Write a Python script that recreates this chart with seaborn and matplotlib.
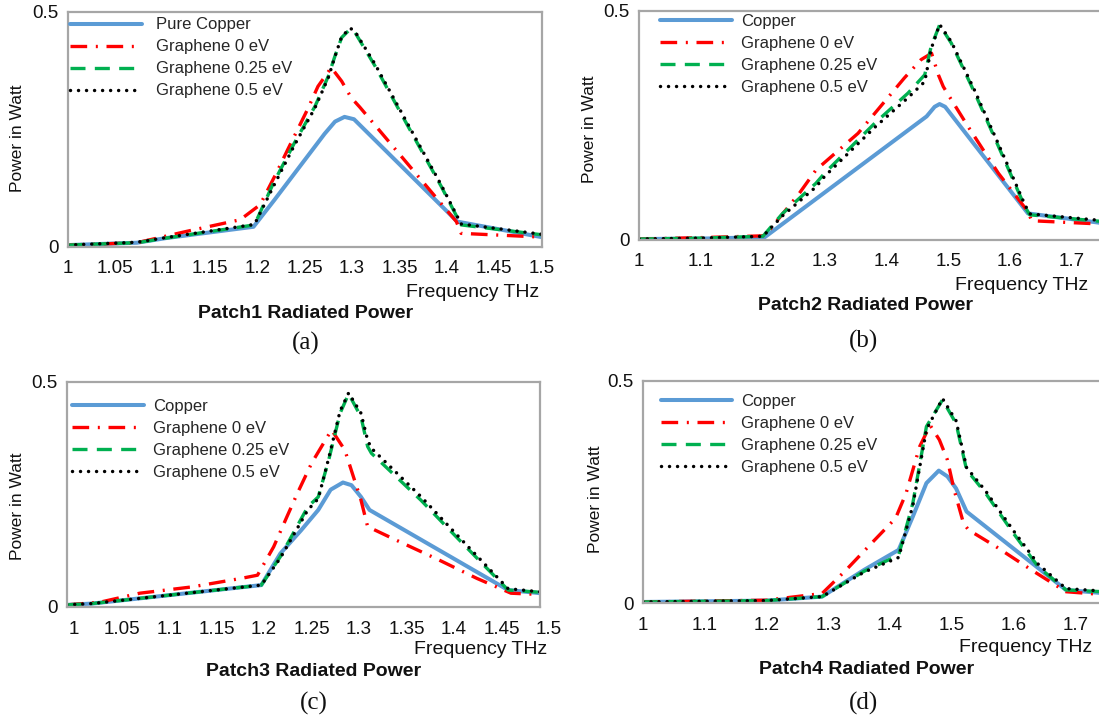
import numpy as np
import pandas as pd
import matplotlib
matplotlib.use("Agg")
import matplotlib.pyplot as plt
import seaborn as sns

# ---------------- data ----------------
series_names = ["Copper", "Graphene 0 eV", "Graphene 0.25 eV", "Graphene 0.5 eV"]

# Patch 1
a_cu_f = [1.0, 1.073, 1.104, 1.196, 1.218, 1.271, 1.282, 1.292, 1.302, 1.411, 1.5]
a_cu_p = [0.003, 0.008, 0.018, 0.042, 0.099, 0.240, 0.266, 0.276, 0.271, 0.053, 0.020]
a_g0_f = [1.0, 1.073, 1.125, 1.182, 1.203, 1.22, 1.232, 1.253, 1.264, 1.278, 1.289, 1.299, 1.308, 1.41, 1.415, 1.5]
a_g0_p = [0.003, 0.008, 0.032, 0.057, 0.089, 0.156, 0.206, 0.292, 0.341, 0.381, 0.352, 0.317, 0.297, 0.053, 0.028, 0.020]
a_g25_f = [1.0, 1.073, 1.104, 1.197, 1.217, 1.239, 1.261, 1.275, 1.282, 1.289, 1.298, 1.303, 1.324, 1.359, 1.394, 1.415, 1.5]
a_g25_p = [0.003, 0.008, 0.018, 0.046, 0.135, 0.220, 0.299, 0.363, 0.406, 0.445, 0.463, 0.456, 0.385, 0.256, 0.128, 0.046, 0.025]
a_g5_f = [1.0, 1.073, 1.104, 1.197, 1.217, 1.239, 1.261, 1.275, 1.282, 1.289, 1.298, 1.303, 1.324, 1.359, 1.394, 1.415, 1.5]
a_g5_p = [0.003, 0.009, 0.019, 0.047, 0.128, 0.215, 0.296, 0.360, 0.405, 0.447, 0.465, 0.458, 0.389, 0.260, 0.131, 0.048, 0.026]

# Patch 2
b_cu_f = [1.0, 1.1, 1.203, 1.465, 1.478, 1.486, 1.495, 1.629, 1.76]
b_cu_p = [0.001, 0.002, 0.005, 0.269, 0.290, 0.296, 0.290, 0.057, 0.034]
b_g0_f = [1.0, 1.097, 1.2, 1.211, 1.259, 1.286, 1.354, 1.429, 1.456, 1.473, 1.484, 1.492, 1.502, 1.532, 1.581, 1.629, 1.635, 1.76]
b_g0_p = [0.001, 0.004, 0.008, 0.021, 0.101, 0.152, 0.232, 0.353, 0.393, 0.407, 0.360, 0.334, 0.312, 0.247, 0.145, 0.061, 0.041, 0.033]
b_g25_f = [1.0, 1.1, 1.2, 1.232, 1.286, 1.3, 1.381, 1.435, 1.462, 1.472, 1.486, 1.505, 1.543, 1.586, 1.624, 1.632, 1.76]
b_g25_p = [0.001, 0.003, 0.007, 0.057, 0.123, 0.145, 0.254, 0.320, 0.360, 0.420, 0.469, 0.429, 0.320, 0.189, 0.072, 0.054, 0.038]
b_g5_f = [1.0, 1.1, 1.2, 1.232, 1.286, 1.3, 1.381, 1.435, 1.462, 1.472, 1.486, 1.505, 1.543, 1.586, 1.624, 1.632, 1.76]
b_g5_p = [0.001, 0.003, 0.007, 0.052, 0.115, 0.138, 0.245, 0.310, 0.345, 0.415, 0.470, 0.432, 0.325, 0.194, 0.076, 0.056, 0.040]

# Patch 3
c_cu_f = [0.992, 1.019, 1.197, 1.217, 1.239, 1.257, 1.270, 1.283, 1.292, 1.302, 1.311, 1.457, 1.491]
c_cu_p = [0.004, 0.007, 0.048, 0.118, 0.170, 0.215, 0.260, 0.276, 0.270, 0.244, 0.215, 0.037, 0.030]
c_g0_f = [0.992, 1.027, 1.069, 1.124, 1.176, 1.193, 1.210, 1.224, 1.235, 1.250, 1.271, 1.285, 1.294, 1.302, 1.309, 1.339, 1.384, 1.424, 1.460, 1.491]
c_g0_p = [0.004, 0.010, 0.030, 0.044, 0.063, 0.070, 0.133, 0.200, 0.252, 0.319, 0.393, 0.348, 0.289, 0.237, 0.178, 0.148, 0.104, 0.063, 0.030, 0.027]
c_g25_f = [0.992, 1.019, 1.197, 1.217, 1.246, 1.257, 1.268, 1.280, 1.289, 1.302, 1.309, 1.313, 1.365, 1.402, 1.457, 1.491]
c_g25_p = [0.004, 0.007, 0.048, 0.111, 0.222, 0.244, 0.326, 0.430, 0.473, 0.422, 0.356, 0.341, 0.237, 0.156, 0.037, 0.032]
c_g5_f = [0.992, 1.019, 1.197, 1.217, 1.246, 1.257, 1.268, 1.280, 1.289, 1.302, 1.309, 1.313, 1.365, 1.402, 1.457, 1.491]
c_g5_p = [0.004, 0.007, 0.048, 0.108, 0.215, 0.240, 0.330, 0.435, 0.475, 0.430, 0.370, 0.352, 0.245, 0.162, 0.040, 0.033]

# Patch 4
d_cu_f = [1.0, 1.2, 1.29, 1.358, 1.414, 1.437, 1.459, 1.479, 1.493, 1.507, 1.524, 1.685, 1.76]
d_cu_p = [0.003, 0.006, 0.015, 0.075, 0.120, 0.195, 0.270, 0.298, 0.285, 0.258, 0.206, 0.030, 0.021]
d_g0_f = [1.0, 1.2, 1.29, 1.329, 1.375, 1.409, 1.426, 1.448, 1.465, 1.48, 1.493, 1.504, 1.519, 1.527, 1.572, 1.629, 1.685, 1.76]
d_g0_p = [0.003, 0.007, 0.022, 0.075, 0.142, 0.191, 0.247, 0.352, 0.400, 0.367, 0.322, 0.254, 0.180, 0.165, 0.127, 0.075, 0.026, 0.018]
d_g25_f = [1.0, 1.2, 1.29, 1.358, 1.414, 1.437, 1.459, 1.485, 1.507, 1.524, 1.555, 1.600, 1.640, 1.685, 1.76]
d_g25_p = [0.003, 0.006, 0.015, 0.072, 0.108, 0.225, 0.397, 0.457, 0.404, 0.300, 0.247, 0.157, 0.082, 0.030, 0.025]
d_g5_f = [1.0, 1.2, 1.29, 1.358, 1.414, 1.437, 1.459, 1.485, 1.507, 1.524, 1.555, 1.600, 1.640, 1.685, 1.76]
d_g5_p = [0.003, 0.006, 0.015, 0.070, 0.103, 0.220, 0.390, 0.460, 0.410, 0.305, 0.252, 0.163, 0.088, 0.033, 0.026]

# tick labels
a_ticks = [1, 1.05, 1.1, 1.15, 1.2, 1.25, 1.3, 1.35, 1.4, 1.45, 1.5]
a_ticklabels = ["1", "1.05", "1.1", "1.15", "1.2", "1.25", "1.3", "1.35", "1.4", "1.45", "1.5"]
b_ticks = [1, 1.1, 1.2, 1.3, 1.4, 1.5, 1.6, 1.7]
b_ticklabels = ["1", "1.1", "1.2", "1.3", "1.4", "1.5", "1.6", "1.7"]
y_ticks = [0, 0.5]
y_ticklabels = ["0", "0.5"]

panel_titles = ["Patch1 Radiated Power", "Patch2 Radiated Power",
                "Patch3 Radiated Power", "Patch4 Radiated Power"]
panel_tags = ["(a)", "(b)", "(c)", "(d)"]
a_labels = ["Pure Copper", "Graphene 0 eV", "Graphene 0.25 eV", "Graphene 0.5 eV"]

# ---------------- styling ----------------
sns.set_theme(style="white")
plt.rcParams['font.family'] = ['Liberation Sans', 'DejaVu Sans']

W, H = 1099, 721
fig = plt.figure(figsize=(W / 100, H / 100), dpi=100)


def fx(x):
    return x / W


def fy(y):
    return 1 - y / H


def add_axes_px(left, right, top, bottom):
    return fig.add_axes([left / W, 1 - bottom / H, (right - left) / W, (bottom - top) / H])


styles = [
    dict(color="#5B9BD5", linewidth=2.9, linestyle="-"),
    dict(color="#FF0000", linewidth=2.4, linestyle=(0, (5, 2.6, 0.6, 2.6))),
    dict(color="#00B050", linewidth=2.4, linestyle=(0, (4.5, 2.8))),
    dict(color="#000000", linewidth=2.5, linestyle=(0, (0.01, 2.3)), dash_capstyle="round"),
]

panels = [
    dict(box=(67.7, 541.7, 11.7, 246.5), xlim=(1.0, 1.5), ticks=a_ticks, tl=a_ticklabels,
         data=[(a_cu_f, a_cu_p), (a_g0_f, a_g0_p), (a_g25_f, a_g25_p), (a_g5_f, a_g5_p)],
         labels=a_labels, leg=(2.3, 23.3, 0.85),
         ylab=(18, 138), freq=(539, 292), title=(306, 313), tag=(306, 343)),
    dict(box=(639.3, 1133.6, 10.7, 239.5), xlim=(1.0, 1.8), ticks=b_ticks, tl=b_ticklabels,
         data=[(b_cu_f, b_cu_p), (b_g0_f, b_g0_p), (b_g25_f, b_g25_p), (b_g5_f, b_g5_p)],
         labels=series_names, leg=(20.7, 20.7, 0.55),
         ylab=(589.3, 129), freq=(1088.5, 285), title=(866, 305), tag=(864, 341)),
    dict(box=(66.7, 540.4, 381.7, 606.7), xlim=(0.992, 1.491), ticks=a_ticks, tl=a_ticklabels,
         data=[(c_cu_f, c_cu_p), (c_g0_f, c_g0_p), (c_g25_f, c_g25_p), (c_g5_f, c_g5_p)],
         labels=series_names, leg=(5.3, 35.0, 0.55),
         ylab=(17.5, 506), freq=(547, 650), title=(314, 671.7), tag=(314, 703)),
    dict(box=(643, 1137, 380.7, 603.3), xlim=(1.0, 1.8), ticks=b_ticks, tl=b_ticklabels,
         data=[(d_cu_f, d_cu_p), (d_g0_f, d_g0_p), (d_g25_f, d_g25_p), (d_g5_f, d_g5_p)],
         labels=series_names, leg=(17.5, 31.0, 0.55),
         ylab=(595.6, 499), freq=(1092, 647), title=(867, 670), tag=(864, 703)),
]

for i, pn in enumerate(panels):
    left, right, top, bottom = pn["box"]
    ax = add_axes_px(left, right, top, bottom)
    for (f, p), lab, st in zip(pn["data"], pn["labels"], styles):
        df = pd.DataFrame({"Frequency": f, "Power": p})
        sns.lineplot(data=df, x="Frequency", y="Power", ax=ax, label=lab,
                     estimator=None, sort=False, **st)
    ax.set_xlim(*pn["xlim"])
    ax.set_ylim(0, 0.5)
    ticks_in = [t for t in pn["ticks"] if t <= pn["xlim"][1] + 1e-9]
    labels_in = [l for t, l in zip(pn["ticks"], pn["tl"]) if t <= pn["xlim"][1] + 1e-9]
    ax.set_xticks(ticks_in)
    ax.set_xticklabels(labels_in)
    # tick labels that fall just outside the plotting box
    for t, l in zip(pn["ticks"], pn["tl"]):
        if t > pn["xlim"][1] + 1e-9 and t < pn["xlim"][1] + 0.02:
            ax.annotate(l, xy=(t, 0), xycoords=("data", "axes fraction"),
                        xytext=(0, -10), textcoords="offset points",
                        ha="center", va="top", fontsize=13.5, color="#111111",
                        annotation_clip=False)
    ax.set_yticks(y_ticks)
    ax.set_yticklabels(y_ticklabels)
    ax.tick_params(axis="x", length=0, pad=10, labelsize=13.5, colors="#111111")
    ax.tick_params(axis="y", length=0, pad=6.8, labelsize=13.5, colors="#111111")
    ax.set_xlabel("")
    ax.set_ylabel("")
    for s in ax.spines.values():
        s.set_visible(True)
        s.set_color("#A6A6A6")
        s.set_linewidth(1.6)
    ax.grid(False)

    # legend
    dx, dy, htp = pn["leg"]
    axw = right - left
    axh = bottom - top
    handles, labs = ax.get_legend_handles_labels()
    ax.legend(handles, labs, loc="upper left",
              bbox_to_anchor=(dx / axw, 1 - (dy - 17.5) / axh),
              frameon=False, fontsize=12, handlelength=4.3, handletextpad=htp,
              labelspacing=0.42, borderpad=0, borderaxespad=0)

    # texts
    fig.text(fx(pn["ylab"][0]), fy(pn["ylab"][1]), "Power in Watt", rotation=90,
             ha="center", va="center", fontsize=12.5, color="#111111")
    fig.text(fx(pn["freq"][0]), fy(pn["freq"][1]), "Frequency THz",
             ha="right", va="center", fontsize=14, color="#111111")
    fig.text(fx(pn["title"][0]), fy(pn["title"][1]), panel_titles[i],
             ha="center", va="center", fontsize=14, fontweight="bold", color="#111111")
    fig.text(fx(pn["tag"][0]), fy(pn["tag"][1]), panel_tags[i],
             ha="center", va="center", fontsize=18, family=["Liberation Serif", "DejaVu Serif"],
             color="#111111")

fig.savefig("out.png", dpi=100)
